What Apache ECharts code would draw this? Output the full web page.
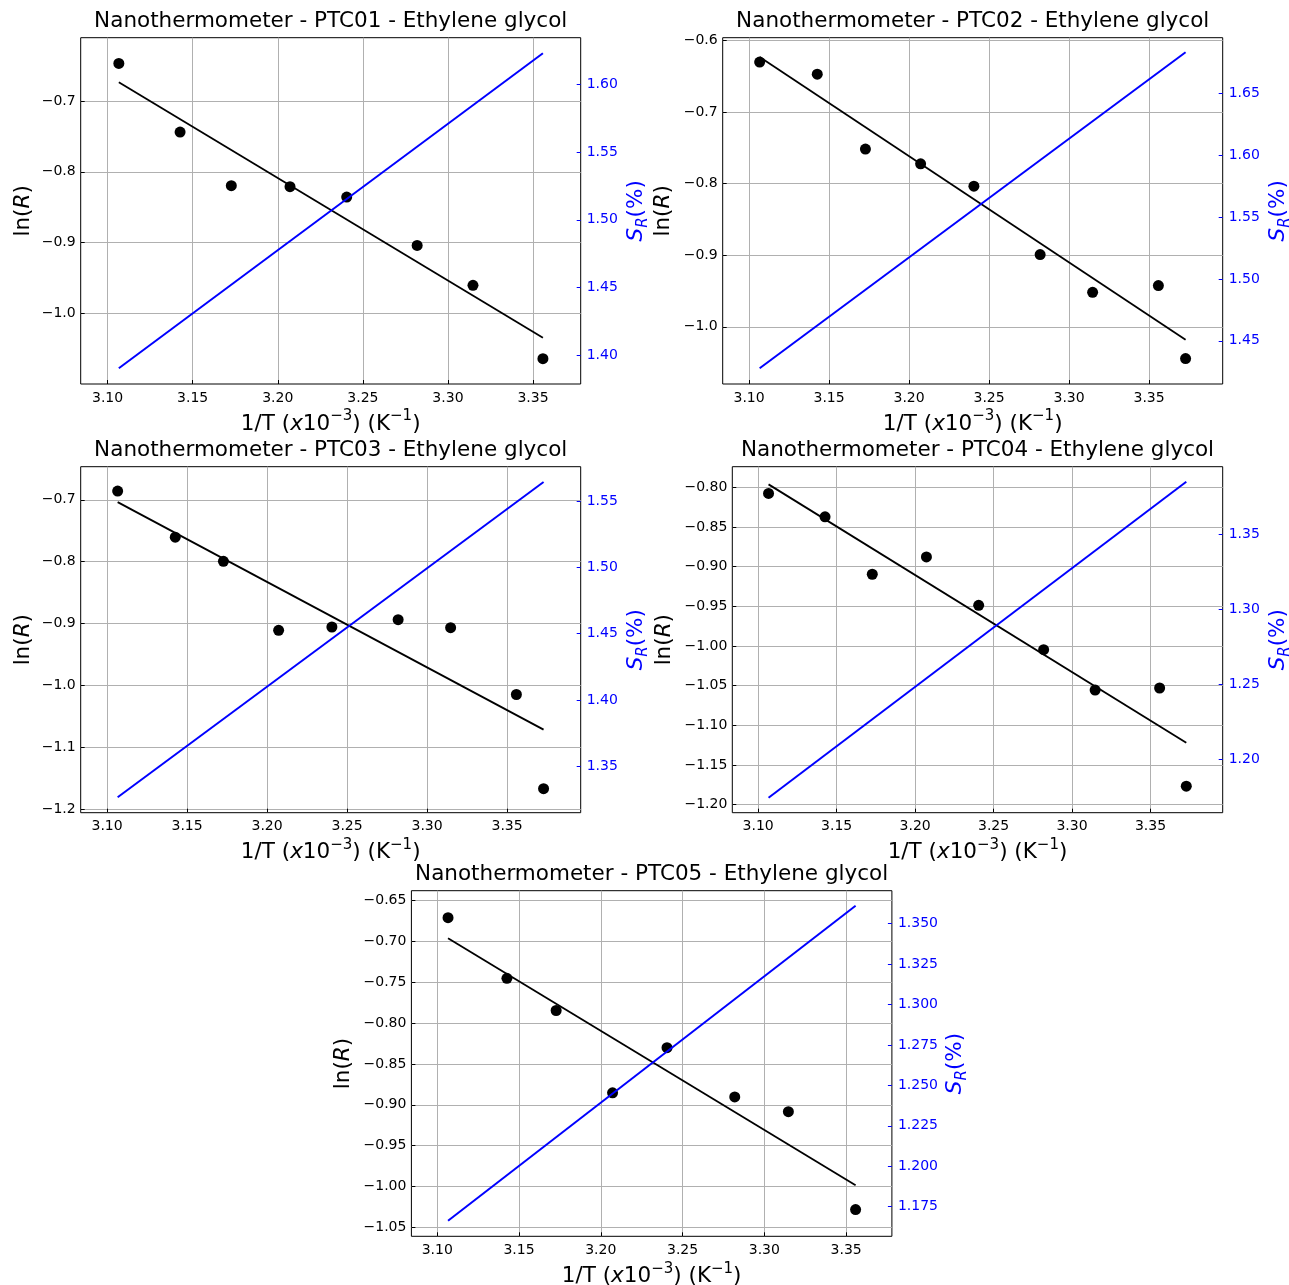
<!DOCTYPE html>
<html><head><meta charset="utf-8">
<script src="https://cdn.jsdelivr.net/npm/echarts@6/dist/echarts.min.js"></script>
<style>html,body{margin:0;padding:0;background:#fff}#c{width:1289px;height:1285px}</style>
</head><body><div id="c"></div>
<script>
// 1/T values (x10^-3 K^-1)
const invT = [3.1066, 3.1426, 3.1727, 3.2072, 3.2405, 3.2819, 3.3147, 3.3558, 3.3728];

// ln(R) measurements
const lnR_PTC01 = [-0.6468, -0.7438, -0.8196, -0.8211, -0.8357, -0.9040, -0.9605, -1.0641];
const lnR_PTC02 = [-0.6304, -0.6472, -0.7519, -0.7724, -0.8037, -0.8991, -0.9519, -0.9425, -1.0444];
const lnR_PTC03 = [-0.6860, -0.7604, -0.7995, -0.9109, -0.9055, -0.8936, -0.9065, -1.0145, -1.1666];
const lnR_PTC04 = [-0.8076, -0.8371, -0.9095, -0.8876, -0.9487, -1.0046, -1.0555, -1.0529, -1.1767];
const lnR_PTC05 = [-0.6708, -0.7451, -0.7845, -0.8853, -0.8300, -0.8904, -0.9084, -1.0282];

// linear fit of ln(R): values at first and last point
const fit_PTC01 = [-0.6736, -1.0344];
const fit_PTC02 = [-0.6234, -1.0182];
const fit_PTC03 = [-0.7038, -1.0712];
const fit_PTC04 = [-0.7962, -1.1219];
const fit_PTC05 = [-0.6959, -0.9984];

// relative sensitivity S_R (%) at first and last point
const sr_PTC01 = [1.3904, 1.6229];
const sr_PTC02 = [1.4278, 1.6832];
const sr_PTC03 = [1.3266, 1.5644];
const sr_PTC04 = [1.1746, 1.3852];
const sr_PTC05 = [1.1663, 1.3611];

// tick labels
const xTicks = [3.10, 3.15, 3.20, 3.25, 3.30, 3.35];
const lnTicks_PTC01 = [-1.0, -0.9, -0.8, -0.7];
const lnTicks_PTC02 = [-1.0, -0.9, -0.8, -0.7, -0.6];
const lnTicks_PTC03 = [-1.2, -1.1, -1.0, -0.9, -0.8, -0.7];
const lnTicks_PTC04 = [-1.20, -1.15, -1.10, -1.05, -1.00, -0.95, -0.90, -0.85, -0.80];
const lnTicks_PTC05 = [-1.05, -1.00, -0.95, -0.90, -0.85, -0.80, -0.75, -0.70, -0.65];
const srTicks_PTC01 = [1.40, 1.45, 1.50, 1.55, 1.60];
const srTicks_PTC02 = [1.45, 1.50, 1.55, 1.60, 1.65];
const srTicks_PTC03 = [1.35, 1.40, 1.45, 1.50, 1.55];
const srTicks_PTC04 = [1.20, 1.25, 1.30, 1.35];
const srTicks_PTC05 = [1.175, 1.200, 1.225, 1.250, 1.275, 1.300, 1.325, 1.350];

const names = ['PTC01', 'PTC02', 'PTC03', 'PTC04', 'PTC05'];
const lnR = [lnR_PTC01, lnR_PTC02, lnR_PTC03, lnR_PTC04, lnR_PTC05];
const fits = [fit_PTC01, fit_PTC02, fit_PTC03, fit_PTC04, fit_PTC05];
const srs = [sr_PTC01, sr_PTC02, sr_PTC03, sr_PTC04, sr_PTC05];
const lnTicks = [lnTicks_PTC01, lnTicks_PTC02, lnTicks_PTC03, lnTicks_PTC04, lnTicks_PTC05];
const srTicks = [srTicks_PTC01, srTicks_PTC02, srTicks_PTC03, srTicks_PTC04, srTicks_PTC05];

// layout / axis limits
const layout = [
  {g:{left:80.7, top:37.7, width:500, height:346.3}, xr:[3.0842,3.378], yr:[-1.0999,-0.6105], sr:[1.3788,1.6344], lnDec:1, srDec:2, lnGap:46, srGap:42},
  {g:{left:722.7, top:37.7, width:500, height:346.3}, xr:[3.0835,3.396], yr:[-1.0799,-0.5963], sr:[1.4151,1.6949], lnDec:1, srDec:2, lnGap:48, srGap:42},
  {g:{left:80.7, top:466.7, width:500, height:346}, xr:[3.0835,3.396], yr:[-1.2054,-0.6466], sr:[1.3150,1.5759], lnDec:1, srDec:2, lnGap:46, srGap:42},
  {g:{left:732.3, top:466.7, width:490.4, height:346}, xr:[3.0835,3.396], yr:[-1.2101,-0.7739], sr:[1.1646,1.3952], lnDec:2, srDec:2, lnGap:57, srGap:42},
  {g:{left:411.4, top:890.7, width:480.5, height:345.6}, xr:[3.0842,3.378], yr:[-1.061,-0.6378], sr:[1.1567,1.3704], lnDec:2, srDec:3, lnGap:57, srGap:50}
];

const FONT = 'DejaVu Sans';
const fmt = d => v => (v < 0 ? '\u2212' : '') + Math.abs(v).toFixed(d);

const grids = [], xAxes = [], yAxes = [], series = [], graphics = [];
layout.forEach((L, k) => {
  grids.push(Object.assign({show:true, borderColor:'#000', borderWidth:1, backgroundColor:'transparent', containLabel:false, outerBoundsMode:'none'}, L.g));
  xAxes.push({
    type:'value', gridIndex:k, min:L.xr[0], max:L.xr[1],
    axisLine:{show:false},
    axisTick:{show:true, inside:true, length:4, lineStyle:{color:'#000'}, customValues:xTicks},
    axisLabel:{customValues:xTicks, formatter:fmt(2), fontFamily:FONT, fontSize:14, color:'#000', margin:7},
    splitLine:{show:true, lineStyle:{color:'#b0b0b0', width:1}},
    name:'1/T ({i|x}10{sup|\u22123}) (K{sup|\u22121})', nameLocation:'middle', nameGap:25,
    nameTextStyle:{fontFamily:FONT, fontSize:21.5, color:'#000', lineHeight:30,
      rich:{i:{fontFamily:FONT, fontSize:21.5, fontStyle:'italic', color:'#000', lineHeight:30},
            sup:{fontFamily:FONT, fontSize:15, color:'#000', verticalAlign:'top', lineHeight:15}}}
  });
  yAxes.push({
    type:'value', gridIndex:k, position:'left', min:L.yr[0], max:L.yr[1],
    axisLine:{show:false},
    axisTick:{show:true, inside:true, length:4, lineStyle:{color:'#000'}, customValues:lnTicks[k]},
    axisLabel:{customValues:lnTicks[k], formatter:fmt(L.lnDec), fontFamily:FONT, fontSize:14, color:'#000', margin:5},
    splitLine:{show:true, lineStyle:{color:'#b0b0b0', width:1}},
    name:'ln({i|R})', nameLocation:'middle', nameGap:L.lnGap,
    nameTextStyle:{fontFamily:FONT, fontSize:21.5, color:'#000',
      rich:{i:{fontFamily:FONT, fontSize:21.5, fontStyle:'italic', color:'#000'}}}
  });
  yAxes.push({
    type:'value', gridIndex:k, position:'right', min:L.sr[0], max:L.sr[1],
    axisLine:{show:false},
    axisTick:{show:true, inside:true, length:4, lineStyle:{color:'#0000ff'}, customValues:srTicks[k]},
    axisLabel:{customValues:srTicks[k], formatter:fmt(L.srDec), fontFamily:FONT, fontSize:14, color:'#0000ff', margin:6},
    splitLine:{show:false},
    name:'{s|S}{sub|R}{p|(%)}', nameLocation:'middle', nameGap:L.srGap,
    nameTextStyle:{fontFamily:FONT, fontSize:21.5, color:'#0000ff',
      rich:{s:{fontFamily:FONT, fontSize:21.5, fontStyle:'italic', color:'#0000ff', lineHeight:28},
            sub:{fontFamily:FONT, fontSize:15, fontStyle:'italic', color:'#0000ff', verticalAlign:'bottom', lineHeight:15},
            p:{fontFamily:FONT, fontSize:21.5, color:'#0000ff', lineHeight:28}}}
  });
  const n = lnR[k].length;
  series.push({type:'scatter', xAxisIndex:k, yAxisIndex:2*k, symbolSize:11, itemStyle:{color:'#000', opacity:1},
    data: lnR[k].map((v,i)=>[invT[i], v]), z:2});
  series.push({type:'line', xAxisIndex:k, yAxisIndex:2*k, showSymbol:false, lineStyle:{color:'#000', width:1.8},
    data:[[invT[0], fits[k][0]], [invT[n-1], fits[k][1]]], z:3});
  series.push({type:'line', xAxisIndex:k, yAxisIndex:2*k+1, showSymbol:false, lineStyle:{color:'#0000ff', width:2},
    data:[[invT[0], srs[k][0]], [invT[n-1], srs[k][1]]], z:4});
  graphics.push({type:'text', x:L.g.left + L.g.width/2, y:L.g.top - 16,
    style:{text:'Nanothermometer - ' + names[k] + ' - Ethylene glycol', font:'21.5px "DejaVu Sans"', fill:'#000', align:'center', verticalAlign:'middle'}});
});

const chart = echarts.init(document.getElementById('c'), null, {renderer:'canvas'});
chart.setOption({
  animation:false, backgroundColor:'#fff',
  grid:grids, xAxis:xAxes, yAxis:yAxes, series:series, graphic:graphics
});
</script></body></html>
